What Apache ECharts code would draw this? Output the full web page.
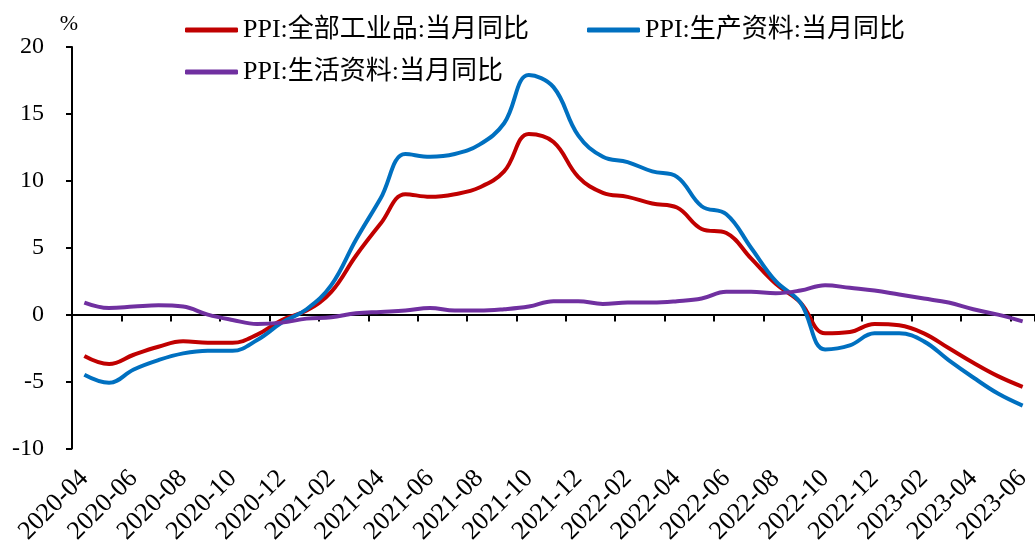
<!DOCTYPE html>
<html>
<head>
<meta charset="utf-8">
<title>PPI当月同比</title>
<script src="https://cdn.jsdelivr.net/npm/echarts@6/dist/echarts.min.js"></script>
<style>
    html, body {margin: 0; padding: 0; background: #fff;}
    #ppiChart {width: 1035px; height: 547px;}
</style>
</head>
<body>
<div id="ppiChart"></div>
<script>
// 月份
var months = ['2020-04', '2020-05', '2020-06', '2020-07', '2020-08', '2020-09', '2020-10', '2020-11', '2020-12',
    '2021-01', '2021-02', '2021-03', '2021-04', '2021-05', '2021-06', '2021-07', '2021-08', '2021-09', '2021-10', '2021-11', '2021-12',
    '2022-01', '2022-02', '2022-03', '2022-04', '2022-05', '2022-06', '2022-07', '2022-08', '2022-09', '2022-10', '2022-11', '2022-12',
    '2023-01', '2023-02', '2023-03', '2023-04', '2023-05', '2023-06'];

// PPI:全部工业品:当月同比
var ppiAll = [-3.1, -3.7, -3.0, -2.4, -2.0, -2.1, -2.1, -1.5, -0.4,
    0.3, 1.7, 4.4, 6.8, 9.0, 8.8, 9.0, 9.5, 10.7, 13.5, 12.9, 10.3,
    9.1, 8.8, 8.3, 8.0, 6.4, 6.1, 4.2, 2.3, 0.9, -1.4, -1.3, -0.7,
    -0.8, -1.4, -2.5, -3.6, -4.6, -5.4];

// PPI:生产资料:当月同比
var ppiProducer = [-4.5, -5.1, -4.1, -3.4, -2.9, -2.7, -2.7, -1.9, -0.6,
    0.4, 2.2, 5.6, 8.7, 12.0, 11.8, 12.0, 12.7, 14.3, 17.9, 17.0, 13.4,
    11.8, 11.4, 10.7, 10.3, 8.1, 7.5, 5.0, 2.5, 0.9, -2.6, -2.3, -1.4,
    -1.4, -2.0, -3.4, -4.7, -5.9, -6.8];

// PPI:生活资料:当月同比
var ppiConsumer = [0.9, 0.5, 0.6, 0.7, 0.6, 0.0, -0.4, -0.7, -0.6,
    -0.3, -0.2, 0.1, 0.2, 0.3, 0.5, 0.3, 0.3, 0.4, 0.6, 1.0, 1.0,
    0.8, 0.9, 0.9, 1.0, 1.2, 1.7, 1.7, 1.6, 1.8, 2.2, 2.0, 1.8,
    1.5, 1.2, 0.9, 0.4, 0.0, -0.5];

// y轴刻度
var yMin = -10;
var yMax = 20;
var yStep = 5;

var seriesNames = ['PPI:全部工业品:当月同比', 'PPI:生产资料:当月同比', 'PPI:生活资料:当月同比'];
var seriesColors = ['#C00000', '#0070C0', '#7030A0'];

var fontFamily = "'Liberation Serif', 'Times New Roman', 'Noto Sans CJK SC', serif";

function makeLegend(name, left, top) {
    return {
        data: [name],
        left: left,
        top: top,
        icon: 'roundRect',
        itemWidth: 53,
        itemHeight: 5,
        itemGap: 0,
        padding: 0,
        textStyle: {
            color: '#000',
            fontSize: 26,
            fontFamily: fontFamily
        }
    };
}

function makeLine(i, data) {
    return {
        name: seriesNames[i],
        type: 'line',
        xAxisIndex: 0,
        data: data,
        smooth: 0.4,
        symbol: 'none',
        color: seriesColors[i],
        lineStyle: {width: 4, color: seriesColors[i]}
    };
}

var chart = echarts.init(document.getElementById('ppiChart'), null, {renderer: 'canvas'});
var option = {
    animation: false,
    backgroundColor: '#fff',
    textStyle: {fontFamily: fontFamily},
    legend: [
        makeLegend(seriesNames[0], 185, 17),
        makeLegend(seriesNames[1], 587, 17),
        makeLegend(seriesNames[2], 185, 59)
    ],
    grid: {
        left: 72,
        top: 47,
        right: -10.5,
        bottom: 98,
        containLabel: false
    },
    xAxis: [{
        // 零轴线和刻度
        type: 'category',
        data: months,
        boundaryGap: true,
        axisLine: {onZero: true, lineStyle: {color: '#000', width: 2}},
        axisTick: {show: true, interval: 1, length: 7, lineStyle: {color: '#000', width: 2}},
        axisLabel: {show: false, interval: 1},
        splitLine: {show: false}
    }, {
        // 底部日期标签
        type: 'category',
        data: months,
        boundaryGap: true,
        position: 'bottom',
        axisLine: {show: false, onZero: false},
        axisTick: {show: false},
        axisLabel: {
            interval: 1,
            rotate: 45,
            margin: 26,
            color: '#000',
            fontSize: 26,
            fontFamily: fontFamily
        },
        splitLine: {show: false}
    }],
    yAxis: {
        type: 'value',
        min: yMin,
        max: yMax,
        interval: yStep,
        name: '%',
        nameLocation: 'end',
        nameGap: 12,
        nameTextStyle: {color: '#000', fontSize: 22, fontFamily: fontFamily, align: 'center', padding: [0, 6, 0, 0]},
        axisLine: {show: true, lineStyle: {color: '#000', width: 2}},
        axisTick: {show: true, length: 6, lineStyle: {color: '#000', width: 2}},
        axisLabel: {color: '#000', fontSize: 24, margin: 28, fontFamily: fontFamily},
        splitLine: {show: false}
    },
    series: [
        makeLine(0, ppiAll),
        makeLine(1, ppiProducer),
        makeLine(2, ppiConsumer)
    ]
};
chart.setOption(option, true);
</script>
</body>
</html>
